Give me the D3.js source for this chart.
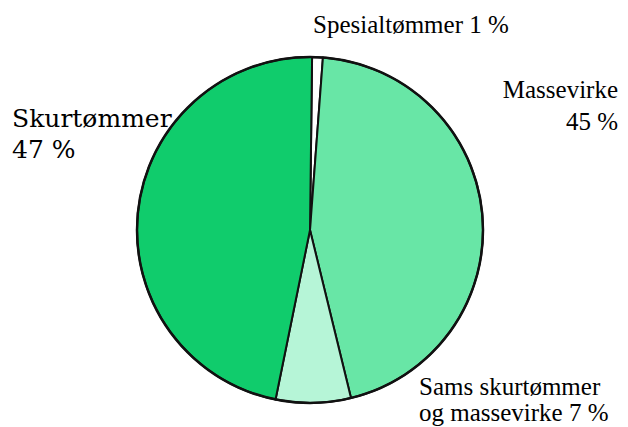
<!DOCTYPE html>
<html><head><meta charset="utf-8"><script src="https://cdn.jsdelivr.net/npm/d3@7"></script></head>
<body style="margin:0">
<svg id="s" width="628" height="427"></svg>
<script>
const categories = ["Spesialtømmer", "Massevirke", "Sams skurtømmer og massevirke", "Skurtømmer"];
const values = [1, 45, 7, 47];
const colors = ["#ffffff", "#68e6a6", "#b6f5d7", "#10cc6c"];
const labelLines = [
  ["Spesialtømmer 1 %"],
  ["Massevirke", "45 %"],
  ["Sams skurtømmer", "og massevirke 7 %"],
  ["Skurtømmer", "47 %"]
];
const fams = ["Times New Roman", "Tinos", "Nimbus Roman", "DejaVu Serif"];

const svg = d3.select("#s");
const cx = 310, cy = 230, r = 173;

const labelPos = [
  {x: 313, y: 33, anchor: "start", lh: 31},
  {x: 618, y: 98, anchor: "end", lh: 32},
  {x: 419, y: 395, anchor: "start", lh: 26},
  {x: 12, y: 127, anchor: "start", lh: 31}
];
const lineData = [];
labelLines.forEach((lines, i) => {
  lines.forEach((ln, j) => lineData.push({text: ln, p: labelPos[i], j: j, f: fams[i]}));
});
svg.selectAll("text").data(lineData).enter().append("text")
  .attr("x", d => d.p.x)
  .attr("y", d => d.p.y + d.j * d.p.lh)
  .attr("text-anchor", d => d.p.anchor)
  .attr("font-size", 25)
  .style("font-family", d => `"${d.f}"`)
  .text(d => d.text);

const g = svg.append("g").attr("transform", `translate(${cx},${cy})`);
const pie = d3.pie().sort(null).value(d => d)
  .startAngle(0.012).endAngle(0.012 + 2 * Math.PI);
const arc = d3.arc().innerRadius(0).outerRadius(r);

g.selectAll("path.slice")
  .data(pie(values))
  .enter().append("path")
  .attr("class", "slice")
  .attr("d", arc)
  .attr("fill", (d, i) => colors[i])
  .attr("stroke", "#111")
  .attr("stroke-width", 2)
  .attr("stroke-linejoin", "round");

g.append("circle").attr("r", r).attr("fill", "none")
  .attr("stroke", "#111").attr("stroke-width", 2.5);
</script></body></html>
